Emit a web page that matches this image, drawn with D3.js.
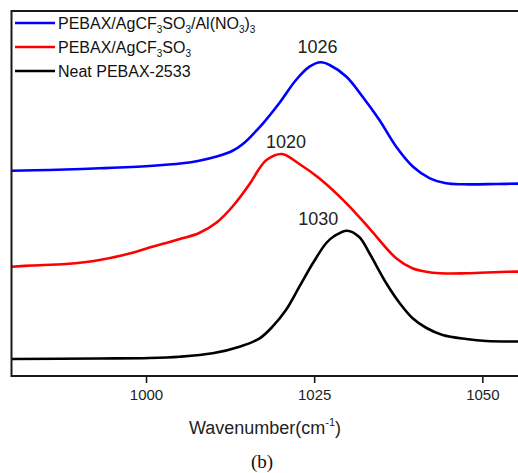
<!DOCTYPE html>
<html><head><meta charset="utf-8">
<script src="https://cdn.jsdelivr.net/npm/d3@7"></script>
<style>body{margin:0;background:#fff}svg{display:block}</style>
</head><body>
<script>
// Data (wavenumber, cm^-1 ; absorbance, arbitrary units, offset)
const blueW = [980, 985.6, 993.1, 1000.5, 1005.4, 1007.9, 1010.5, 1012.8, 1014.4, 1017.4, 1019.8, 1022.3, 1024.3, 1026.0, 1027.3, 1029.8, 1032.2, 1034.7, 1037.2, 1039.7, 1042.2, 1044.6, 1047.1, 1052.1, 1056];
const blueV = [2.053, 2.06, 2.077, 2.10, 2.127, 2.153, 2.195, 2.25, 2.32, 2.527, 2.727, 2.96, 3.093, 3.137, 3.11, 2.993, 2.793, 2.56, 2.293, 2.093, 1.977, 1.927, 1.917, 1.92, 1.925];
const redW = [980, 983.1, 988.1, 993.1, 998.0, 1000.5, 1003.0, 1005.4, 1007.9, 1010.5, 1012.8, 1015.4, 1016.9, 1017.9, 1020.2, 1022.8, 1025.8, 1029.8, 1033.2, 1037.2, 1039.6, 1042.6, 1047.6, 1052.6, 1056];
const redV = [1.093, 1.105, 1.12, 1.16, 1.233, 1.285, 1.33, 1.377, 1.43, 1.535, 1.69, 1.92, 2.08, 2.16, 2.22, 2.12, 1.975, 1.727, 1.477, 1.177, 1.077, 1.033, 1.027, 1.04, 1.045];
const blackW = [980, 993.1, 1000.5, 1005.0, 1009.9, 1013.9, 1016.9, 1018.8, 1020.8, 1022.8, 1024.8, 1026.8, 1028.0, 1029.9, 1031.7, 1033.2, 1035.7, 1037.7, 1039.6, 1041.7, 1044.1, 1047.6, 1050.6, 1056];
const blackV = [0.17, 0.175, 0.18, 0.193, 0.227, 0.293, 0.377, 0.493, 0.66, 0.893, 1.127, 1.33, 1.40, 1.453, 1.39, 1.23, 0.93, 0.73, 0.58, 0.48, 0.41, 0.37, 0.35, 0.345];
const xTicks = [1000, 1025, 1050];
const peakLabels = ["1026", "1020", "1030"];
const peakLabelW = [1025.5, 1020.8, 1025.6];
const peakLabelV = [3.23, 2.28, 1.515];

const W = 518, H = 473;
const svg = d3.select("body").append("svg").attr("width", W).attr("height", H);
const x0 = 11.5, plotTop = 11, plotBottom = 376;
const x = d3.scaleLinear().domain([980, 1060]).range([x0, x0 + 80 * 6.726]);
const y = d3.scaleLinear().domain([0, 3.65]).range([plotBottom, plotTop]);

svg.append("defs").append("clipPath").attr("id", "clip")
  .append("rect").attr("x", x0).attr("y", plotTop).attr("width", W).attr("height", plotBottom - plotTop);

const series = [
  {w: blueW, v: blueV, c: "#0000ff"},
  {w: redW, v: redV, c: "#ff0000"},
  {w: blackW, v: blackV, c: "#000000"}
];
const line = d3.line().x(d => x(d[0])).y(d => y(d[1])).curve(d3.curveCatmullRom.alpha(0.5));
const g = svg.append("g").attr("clip-path", "url(#clip)");
series.forEach(s => {
  g.append("path").datum(s.w.map((w, i) => [w, s.v[i]]))
    .attr("fill", "none").attr("stroke", s.c).attr("stroke-width", 2.6)
    .attr("stroke-linejoin", "round").attr("d", line);
});

// axis
const ax = svg.append("g").attr("transform", `translate(0,${plotBottom})`)
  .call(d3.axisBottom(x).tickValues(xTicks).tickFormat(d3.format("d")).tickSize(7).tickSizeOuter(0).tickPadding(6));
ax.select(".domain").remove();
ax.selectAll("line").attr("stroke", "#1a1a1a").attr("stroke-width", 1.6);
ax.selectAll("text").attr("font-family", "Liberation Sans, Arial, sans-serif")
  .attr("font-size", 15).attr("fill", "#222");

// frame
svg.append("path").attr("d", `M${W + 5},${plotTop}H${x0}V${plotBottom}H${W + 5}`)
  .attr("fill", "none").attr("stroke", "#1a1a1a").attr("stroke-width", 2);

// peak labels
peakLabels.forEach((t, i) => {
  svg.append("text").attr("x", x(peakLabelW[i])).attr("y", y(peakLabelV[i]))
    .attr("text-anchor", "middle").attr("font-family", "Liberation Sans, Arial, sans-serif")
    .attr("font-size", 18).attr("fill", "#222").text(t);
});

// legend
const legend = [
  {c: "#0000ff", parts: [["PEBAX/AgCF", 0], ["3", 1], ["SO", 0], ["3", 1], ["/Al(NO", 0], ["3", 1], [")", 0], ["3", 1]]},
  {c: "#ff0000", parts: [["PEBAX/AgCF", 0], ["3", 1], ["SO", 0], ["3", 1]]},
  {c: "#000000", parts: [["Neat PEBAX-2533", 0]]}
];
legend.forEach((L, i) => {
  const ly = 23 + i * 24;
  svg.append("line").attr("x1", 15).attr("x2", 55).attr("y1", ly).attr("y2", ly)
    .attr("stroke", L.c).attr("stroke-width", 2.6);
  const t = svg.append("text").attr("x", 58).attr("y", ly + 5.5)
    .attr("font-family", "Liberation Sans, Arial, sans-serif").attr("font-size", 16).attr("fill", "#111");
  let prevSub = false;
  L.parts.forEach(p => {
    const ts = t.append("tspan").text(p[0]);
    if (p[1]) { ts.attr("font-size", 10).attr("dy", 4); prevSub = true; }
    else if (prevSub) { ts.attr("dy", -4); prevSub = false; }
  });
});

// axis title
const at = svg.append("text").attr("x", 265).attr("y", 434).attr("text-anchor", "middle")
  .attr("font-family", "Liberation Sans, Arial, sans-serif").attr("font-size", 18).attr("fill", "#222");
at.append("tspan").text("Wavenumber(cm");
at.append("tspan").text("-1").attr("font-size", 11).attr("dy", -8);
at.append("tspan").text(")").attr("dy", 8);

svg.append("text").attr("x", 262).attr("y", 468).attr("text-anchor", "middle")
  .attr("font-family", "Liberation Serif, Times New Roman, serif").attr("font-size", 19).attr("fill", "#111").text("(b)");
</script>
</body></html>
